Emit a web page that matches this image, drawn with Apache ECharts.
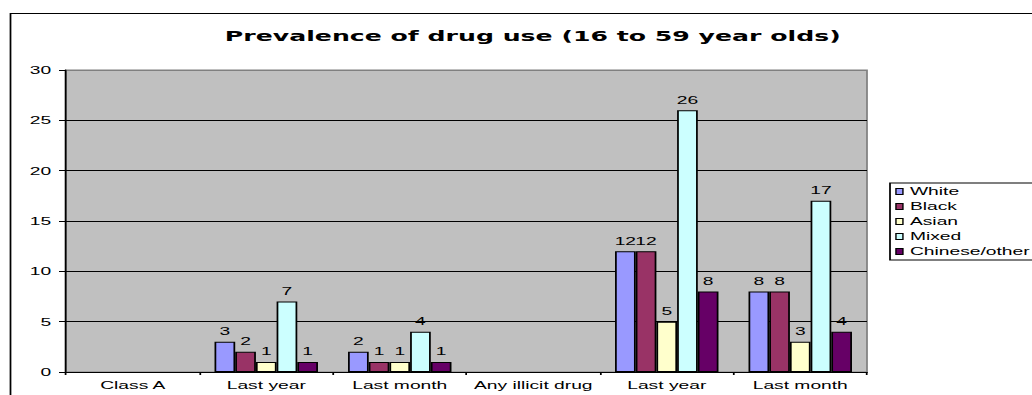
<!DOCTYPE html>
<html>
<head>
<meta charset="utf-8">
<script src="https://cdn.jsdelivr.net/npm/echarts@6/dist/echarts.min.js"></script>
<style>
  html, body { margin: 0; padding: 0; background: #ffffff; }
  #wrap { width: 1032px; height: 395px; overflow: hidden; position: relative; background: #ffffff; }
  /* the chart is laid out narrow and widened horizontally */
  #chart { width: 590px; height: 395px; transform-origin: 0 0; }
</style>
</head>
<body>
<div id="wrap"><div id="chart"></div></div>
<script>
// Chart data
const categories = ['Class A', 'Last year', 'Last month', 'Any illicit drug', 'Last year', 'Last month'];
const seriesNames = ['White', 'Black', 'Asian', 'Mixed', 'Chinese/other'];
const white = [null, 3, 2, null, 12, 8];
const black = [null, 2, 1, null, 12, 8];
const asian = [null, 1, 1, null, 5, 3];
const mixed = [null, 7, 4, null, 26, 17];
const chineseOther = [null, 1, 1, null, 8, 4];
const yTicks = { min: 0, max: 30, interval: 5 };
const chartTitle = 'Prevalence of drug use (16 to 59 year olds)';

const STRETCH = 1032 / 590;
const el = document.getElementById('chart');
el.style.transform = 'scaleX(' + STRETCH + ')';

const colors = ['#9999FF', '#993366', '#FFFFCC', '#CCFFFF', '#660066'];
const values = [white, black, asian, mixed, chineseOther];
const font = 'Liberation Sans, Arial, sans-serif';

const chart = echarts.init(el, null, { renderer: 'svg' });

chart.setOption({
  animation: false,
  backgroundColor: '#ffffff',
  title: {
    text: chartTitle,
    left: 524 / STRETCH,
    textAlign: 'center',
    top: 24,
    textStyle: { fontFamily: 'DejaVu Sans, sans-serif', fontWeight: 'bold', fontSize: 14.4, color: '#000' }
  },
  graphic: [{
    type: 'rect',
    shape: { x: 10.5 / STRETCH, y: 13.5, width: 1000, height: 1000 },
    style: { fill: 'none', stroke: '#000', lineWidth: 1 },
    silent: true,
    z: -1
  }],
  legend: {
    orient: 'vertical',
    left: 890 / STRETCH,
    top: 183,
    padding: [3, 40, 3, 3],
    itemGap: 4,
    itemWidth: 4,
    itemHeight: 6,
    icon: 'rect',
    backgroundColor: '#ffffff',
    borderColor: '#000',
    borderWidth: 1,
    borderRadius: 0,
    itemStyle: { borderColor: '#000', borderWidth: 0.8 },
    textStyle: { fontFamily: font, fontSize: 11, lineHeight: 11, color: '#000', padding: [0, 0, 0, -1] },
    data: seriesNames
  },
  grid: {
    left: 66 / STRETCH,
    right: 590 - 867 / STRETCH,
    top: 70,
    bottom: 23,
    show: true,
    backgroundColor: '#C0C0C0',
    borderColor: '#808080',
    borderWidth: 1,
    containLabel: false
  },
  xAxis: {
    type: 'category',
    data: categories,
    axisLine: { lineStyle: { color: '#000', width: 1 } },
    axisTick: { show: true, length: 3, lineStyle: { color: '#000' } },
    axisLabel: { fontFamily: font, fontSize: 11, color: '#000', margin: 8, interval: 0 },
    splitLine: { show: false }
  },
  yAxis: {
    type: 'value',
    min: yTicks.min,
    max: yTicks.max,
    interval: yTicks.interval,
    axisLine: { show: true, lineStyle: { color: '#000', width: 1 } },
    axisTick: { show: true, length: 4, lineStyle: { color: '#000' } },
    axisLabel: { fontFamily: font, fontSize: 11, color: '#000', margin: 8.5 },
    splitLine: {
      show: true,
      lineStyle: { color: ['#000', '#000', '#000', '#000', '#000', '#000', '#808080'], width: 1 }
    }
  },
  series: seriesNames.map((name, i) => ({
    name: name,
    type: 'bar',
    data: values[i],
    barGap: '0%',
    barCategoryGap: '22.5%',
    itemStyle: { color: colors[i], borderColor: '#000', borderWidth: 1 },
    label: {
      show: true,
      position: 'top',
      distance: 5,
      fontFamily: font,
      fontSize: 11,
      color: '#000'
    }
  }))
});
</script>
</body>
</html>
